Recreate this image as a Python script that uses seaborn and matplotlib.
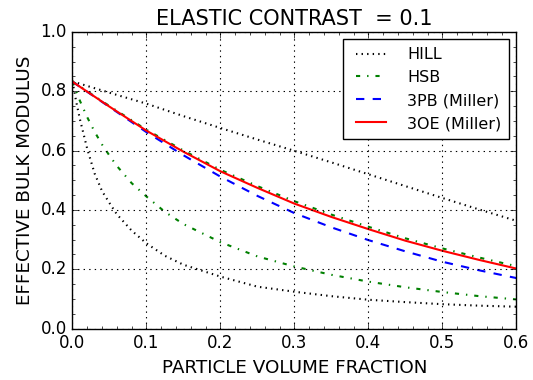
import matplotlib
matplotlib.use("Agg")
import matplotlib.pyplot as plt
import seaborn as sns
from matplotlib.ticker import MultipleLocator

# particle volume fraction grids (fine one for the steep lower bounds)
x_fine = [0, 0.005, 0.01, 0.02, 0.03, 0.04, 0.05, 0.06, 0.08, 0.1, 0.125,
          0.15, 0.2, 0.25, 0.3, 0.35, 0.4, 0.45, 0.5, 0.55, 0.6]
x_coarse = [0, 0.05, 0.1, 0.15, 0.2, 0.25, 0.3, 0.35, 0.4, 0.45, 0.5, 0.55, 0.6]

# values
hill_upper = [0.833, 0.795, 0.758, 0.716, 0.676, 0.637, 0.599, 0.560,
              0.520, 0.480, 0.440, 0.401, 0.363]
hill_lower = [0.833, 0.765, 0.706, 0.605, 0.522, 0.463, 0.423, 0.385, 0.330,
              0.287, 0.245, 0.215, 0.175, 0.141, 0.124, 0.109, 0.097, 0.089,
              0.082, 0.077, 0.0735]
hsb_upper = [0.833, 0.750, 0.670, 0.600, 0.535, 0.480, 0.429, 0.384,
             0.343, 0.304, 0.270, 0.239, 0.210]
hsb_lower = [0.833, 0.800, 0.768, 0.712, 0.663, 0.620, 0.583, 0.548, 0.490,
             0.445, 0.393, 0.352, 0.291, 0.243, 0.209, 0.181, 0.158, 0.139,
             0.123, 0.109, 0.098]
pb3 = [0.832, 0.747, 0.662, 0.584, 0.512, 0.447, 0.389, 0.341,
       0.298, 0.260, 0.225, 0.196, 0.170]
oe3 = [0.832, 0.748, 0.667, 0.596, 0.530, 0.474, 0.421, 0.376,
       0.335, 0.296, 0.262, 0.231, 0.202]

plt.style.use("classic")
plt.rcParams["font.family"] = "DejaVu Sans"

fig = plt.figure(figsize=(5.33, 3.8), dpi=100)
ax = fig.add_axes([0.136, 0.1355, 0.833, 0.7805])

sns.lineplot(x=x_coarse, y=hill_upper, ax=ax, color="k", linestyle=":", lw=1.5, label="HILL")
sns.lineplot(x=x_fine, y=hill_lower, ax=ax, color="k", linestyle=":", lw=1.5, label=None)
sns.lineplot(x=x_coarse, y=hsb_upper, ax=ax, color="g", linestyle="-.", lw=1.5, label="HSB")
sns.lineplot(x=x_fine, y=hsb_lower, ax=ax, color="g", linestyle="-.", lw=1.5, label=None)
sns.lineplot(x=x_coarse, y=pb3, ax=ax, color="b", linestyle="--", lw=1.5, label="3PB (Miller)")
sns.lineplot(x=x_coarse, y=oe3, ax=ax, color="r", linestyle="-", lw=1.5, label="3OE (Miller)")

ax.set_xlim(0, 0.6)
ax.set_ylim(0, 1.0)
ax.xaxis.set_major_locator(MultipleLocator(0.1))
ax.xaxis.set_minor_locator(MultipleLocator(0.02))
ax.yaxis.set_major_locator(MultipleLocator(0.2))
ax.yaxis.set_minor_locator(MultipleLocator(0.05))
ax.tick_params(labelsize=12)
ax.grid(True, color="k", linestyle=":", linewidth=0.8)

ax.set_title("ELASTIC CONTRAST  = 0.1", fontsize=15)
ax.set_xlabel("PARTICLE VOLUME FRACTION", fontsize=13.2)
ax.set_ylabel("EFFECTIVE BULK MODULUS", fontsize=13.2)

ax.legend(loc="upper right", fontsize=11.5, handlelength=2.5, handletextpad=1.0,
          frameon=True, fancybox=False, borderaxespad=0.45, labelspacing=0.5,
          borderpad=0.5)

fig.savefig("out.png", dpi=100, facecolor="white")
